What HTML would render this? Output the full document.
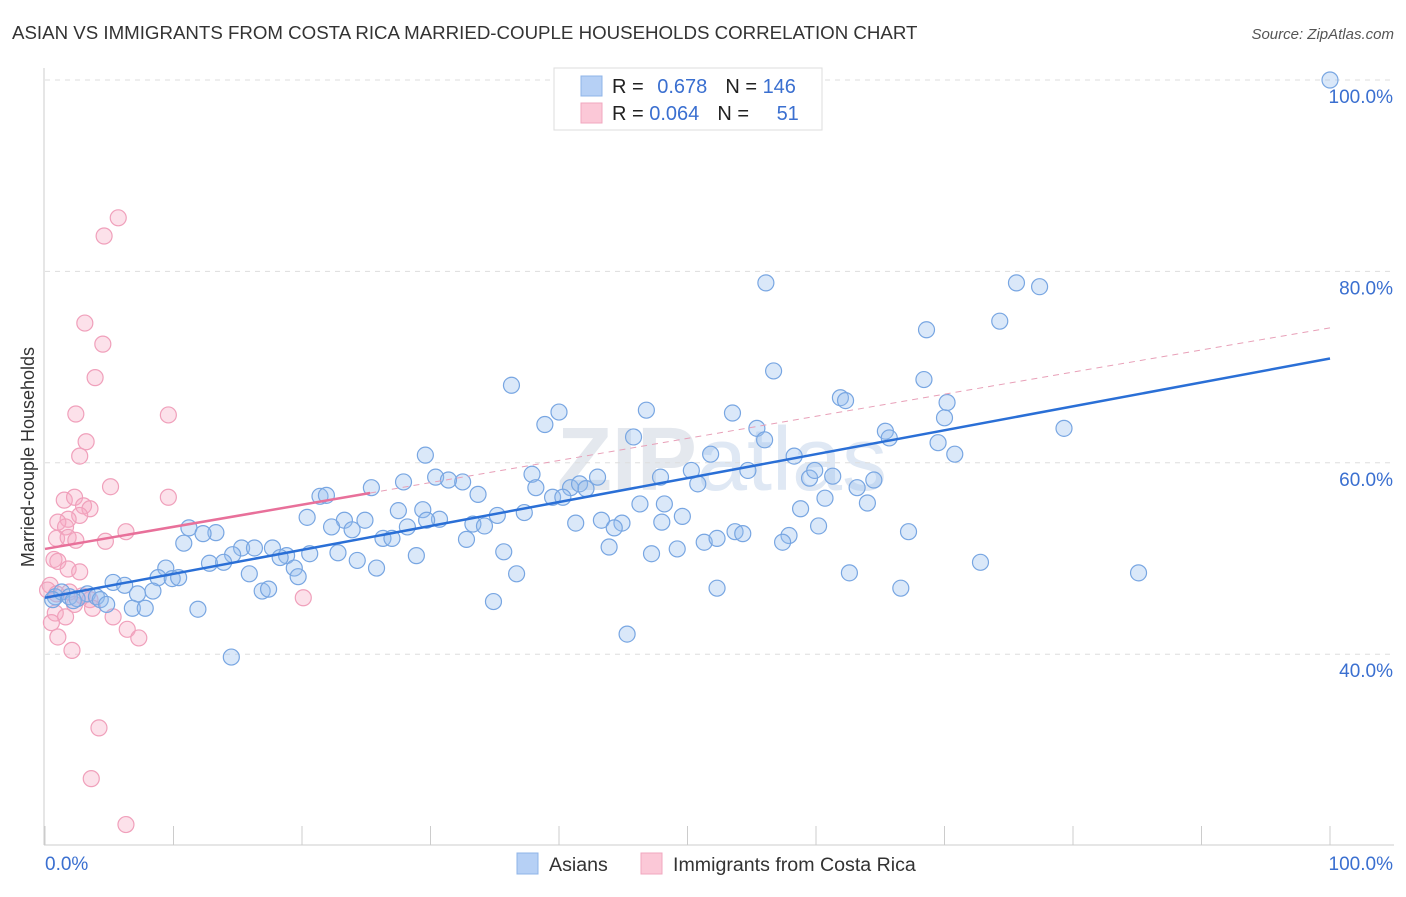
<!DOCTYPE html>
<html><head><meta charset="utf-8"><style>
body{margin:0;background:#fff;font-family:"Liberation Sans",sans-serif}
svg text{font-family:"Liberation Sans",sans-serif}
</style></head><body>
<svg id="chart" width="1406" height="892" xmlns="http://www.w3.org/2000/svg">
<text x="12" y="39" font-size="18.7" fill="#333">ASIAN VS IMMIGRANTS FROM COSTA RICA MARRIED-COUPLE HOUSEHOLDS CORRELATION CHART</text>
<text x="1394" y="39" font-size="15" fill="#555" text-anchor="end" font-style="italic">Source: ZipAtlas.com</text>
<text x="722" y="490" font-size="90" fill="#e4e8ee" text-anchor="middle" font-weight="bold">ZIP<tspan font-weight="normal" fill="#dfe8f4">atlas</tspan></text>
<g id="grid"></g>
<g id="axes"></g>
<g id="pts"></g>
<g id="trends"></g>
<text transform="translate(34,457) rotate(-90)" font-size="18" fill="#333" text-anchor="middle">Married-couple Households</text>
<g>
<rect x="554" y="68" width="268" height="62" fill="#fff" stroke="#ddd"/>
<rect x="581" y="76" width="21" height="20" fill="#b6d0f5" stroke="#8fb4e8"/>
<rect x="581" y="103" width="21" height="20" fill="#fbc8d7" stroke="#f0a7bf"/>
<text x="612" y="93" font-size="20" fill="#222">R = <tspan fill="#3a6fd0" dx="8">0.678</tspan><tspan dx="18">N = </tspan><tspan fill="#3a6fd0">146</tspan></text>
<text x="612" y="120" font-size="20" fill="#222">R = <tspan fill="#3a6fd0">0.064</tspan><tspan dx="18">N = </tspan><tspan fill="#3a6fd0" dx="22">51</tspan></text>
</g>
<g>
<rect x="517" y="853" width="21" height="21" fill="#b6d0f5" stroke="#8fb4e8"/>
<text x="549" y="871" font-size="19.6" fill="#333">Asians</text>
<rect x="641" y="853" width="21" height="21" fill="#fbc8d7" stroke="#f0a7bf"/>
<text x="673" y="871" font-size="19.6" fill="#333">Immigrants from Costa Rica</text>
</g>
</svg>
<script>
const yTicks=[40,60,80,100];
const xTickLabels=["0.0%","100.0%"];
const blueX=[100,56.1,75.6,77.4,74.3,68.6,56.7,36.3,68.4,61.9,62.3,70.2,40.0,46.8,53.5,70.0,38.9,55.4,79.3,65.4,45.8,56.0,65.7,69.5,29.6,51.8,58.3,70.8,30.4,37.9,47.9,50.3,54.7,59.5,59.9,61.3,64.5,32.5,27.9,31.4,43.0,25.4,38.2,40.9,41.6,42.1,50.8,63.2,21.4,21.9,33.7,39.5,40.3,46.3,48.2,60.7,64.0,58.8,20.4,27.5,29.4,30.7,29.7,23.3,24.9,35.2,37.3,49.6,41.3,43.3,44.9,48.0,22.3,23.9,28.2,33.3,34.2,44.3,60.2,11.2,13.3,12.3,26.3,27.0,32.8,53.7,54.3,57.9,67.2,10.8,51.3,52.3,57.4,43.9,47.2,49.2,35.7,17.7,28.9,15.3,16.3,14.6,20.6,22.8,24.3,18.8,12.8,13.9,18.3,25.8,19.4,72.8,9.4,15.9,19.7,36.7,62.6,85.1,8.8,9.9,10.4,5.3,6.2,16.9,17.4,52.3,66.6,8.4,7.2,3.3,0.8,1.3,1.9,2.5,4.0,4.3,0.6,4.8,2.2,6.8,7.8,11.9,34.9,45.3,14.5];
const blueY=[100,78.8,78.8,78.4,74.8,73.9,69.6,68.1,68.7,66.8,66.5,66.3,65.3,65.5,65.2,64.7,64.0,63.6,63.6,63.3,62.7,62.4,62.6,62.1,60.8,60.9,60.7,60.9,58.5,58.8,58.5,59.2,59.2,58.4,59.2,58.6,58.2,58.0,58.0,58.2,58.5,57.4,57.4,57.4,57.8,57.3,57.8,57.4,56.5,56.6,56.7,56.4,56.4,55.7,55.7,56.3,55.8,55.2,54.3,55.0,55.1,54.1,54.0,54.0,54.0,54.5,54.8,54.4,53.7,54.0,53.7,53.8,53.3,53.0,53.3,53.6,53.4,53.2,53.4,53.2,52.7,52.6,52.1,52.1,52.0,52.8,52.6,52.4,52.8,51.6,51.7,52.1,51.7,51.2,50.5,51.0,50.7,51.1,50.3,51.1,51.1,50.4,50.5,50.6,49.8,50.3,49.5,49.6,50.1,49.0,49.0,49.6,49.0,48.4,48.1,48.4,48.5,48.5,48.0,47.9,48.0,47.5,47.2,46.6,46.8,46.9,46.9,46.6,46.3,46.3,46.0,46.5,46.0,45.8,46.0,45.7,45.7,45.2,45.6,44.8,44.8,44.7,45.5,42.1,39.7];
const pinkX=[5.7,4.6,3.1,4.5,3.9,2.4,9.6,3.2,2.7,5.1,9.6,1.5,2.3,3.0,3.5,2.7,1.8,1.0,1.6,6.3,0.9,1.8,2.4,4.7,0.7,1.0,1.8,2.7,0.4,0.2,0.9,1.9,2.9,3.5,20.1,2.3,3.7,0.8,1.6,5.3,0.5,6.4,7.3,1.0,2.1,4.2,3.6,6.3];
const pinkY=[85.6,83.7,74.6,72.4,68.9,65.1,65.0,62.2,60.7,57.5,56.4,56.1,56.4,55.5,55.2,54.5,54.1,53.8,53.3,52.8,52.1,52.2,51.9,51.8,49.9,49.7,48.9,48.6,47.2,46.7,46.3,46.5,46.1,45.7,45.9,45.2,44.8,44.3,43.9,43.9,43.3,42.6,41.7,41.8,40.4,32.3,27.0,22.2];
const blueTrend=[45.9,70.9];
const pinkTrend=[51.0,74.1];
const pinkSolidEnd=25.3;
const sx=v=>45+v*12.85, sy=v=>1037-v*9.57;
const NS="http://www.w3.org/2000/svg";
function mk(t,a,p){const e=document.createElementNS(NS,t);for(const k in a)e.setAttribute(k,a[k]);p.appendChild(e);return e;}
const grid=document.getElementById('grid'),axes=document.getElementById('axes'),pts=document.getElementById('pts'),tr=document.getElementById('trends');
yTicks.forEach(v=>{const l=mk('line',{x1:45,x2:1394,y1:sy(v),y2:sy(v),stroke:'#ddd','stroke-dasharray':'5,5'},grid);


const t=mk('text',{x:1393,y:sy(v)+23,'font-size':19,fill:'#3a6fd0','text-anchor':'end'},grid);t.textContent=v.toFixed(1)+'%';

});
mk('line',{x1:44,x2:44,y1:68,y2:845,stroke:'#ccc'},axes);
mk('line',{x1:44,x2:1394,y1:845,y2:845,stroke:'#ccc'},axes);
for(let i=0;i<=10;i++){mk('line',{x1:sx(i*10),x2:sx(i*10),y1:826,y2:845,stroke:'#ccc'},axes);}
const xl0=mk('text',{x:45,y:870,'font-size':19,fill:'#3a6fd0'},axes);xl0.textContent=xTickLabels[0];


const xl1=mk('text',{x:1393,y:870,'font-size':19,fill:'#3a6fd0','text-anchor':'end'},axes);xl1.textContent=xTickLabels[1];


pinkX.forEach((x,i)=>{const c=mk('circle',{cx:sx(x),cy:sy(pinkY[i]),r:8,fill:'rgba(246,170,196,0.35)',stroke:'#f0a0bb','stroke-width':1.2},pts);

});
blueX.forEach((x,i)=>{const c=mk('circle',{cx:sx(x),cy:sy(blueY[i]),r:8,fill:'rgba(150,188,238,0.35)',stroke:'#78a6e2','stroke-width':1.2},pts);

});
const pAt=x=>pinkTrend[0]+(pinkTrend[1]-pinkTrend[0])*x/100;
const pd=mk('line',{x1:sx(pinkSolidEnd),y1:sy(pAt(pinkSolidEnd)),x2:sx(100),y2:sy(pinkTrend[1]),stroke:'#e8a0b8','stroke-width':1,'stroke-dasharray':'6,5'},tr);


const ps=mk('line',{x1:sx(0),y1:sy(pinkTrend[0]),x2:sx(pinkSolidEnd),y2:sy(pAt(pinkSolidEnd)),stroke:'#e8709a','stroke-width':2.5},tr);


const bl=mk('line',{x1:sx(0),y1:sy(blueTrend[0]),x2:sx(100),y2:sy(blueTrend[1]),stroke:'#2a6fd6','stroke-width':2.5},tr);


</script>
</body></html>
